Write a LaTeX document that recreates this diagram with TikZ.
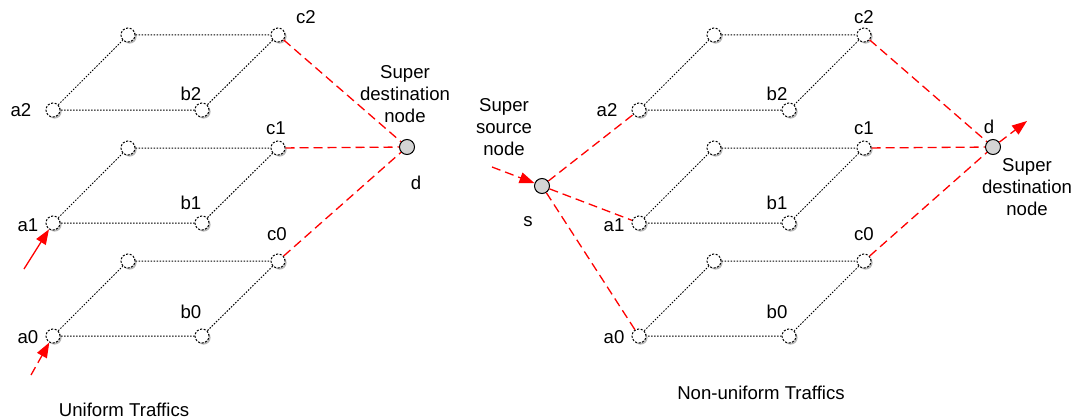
\documentclass[tikz,border=0pt]{standalone}
\usepackage{fontspec}
\setmainfont{Liberation Sans}
\usetikzlibrary{arrows.meta,shadows}
\begin{document}
\begin{tikzpicture}[x=1pt,y=-1pt,
  font=\fontsize{18.6}{22}\selectfont,
  hop/.style={circle,draw=black,line width=1pt,dash pattern=on 2pt off 1.6pt,fill=white,
    minimum size=14pt,inner sep=0pt,
    drop shadow={shadow xshift=1.6pt,shadow yshift=-1.6pt,fill=black!28,opacity=1}},
  supernode/.style={circle,draw=black,line width=1pt,fill=black!17,
    minimum size=15pt,inner sep=0pt},
  link/.style={draw=black,line width=1pt,dash pattern=on 1.5pt off 1.5pt},
  flow/.style={draw=red,line width=1.3pt,dash pattern=on 9pt off 5pt},
  flowsolid/.style={draw=red,line width=1.3pt},
  tip/.style={-{Triangle[length=15pt,width=11pt]}},
  lbl/.style={inner sep=0pt,anchor=center},
  multi/.style={inner sep=0pt,align=center,anchor=center}]
\useasboundingbox (0,0) rectangle (1076,420);

% ---------- left network: uniform traffic ----------
\foreach \k/\y in {2/110,1/223,0/336}{
  \node[hop] (La\k) at (53,\y) {};
  \node[hop] (Lb\k) at (202,\y) {};
  \node[hop] (Lu\k) at (128,\y-75) {};
  \node[hop] (Lc\k) at (278,\y-75) {};
  \draw[link] (La\k) -- (Lu\k) -- (Lc\k) -- (Lb\k) -- (La\k);
}
\node[supernode] (Ld) at (407,147) {};
\foreach \k in {2,1,0}{ \draw[flow] (Lc\k) -- (Ld); }

\coordinate (Lin1) at (24,269);
\coordinate (Lin0) at (31,375);
\draw[flowsolid,tip] (Lin1) -- (La1);
\draw[flow,tip] (Lin0) -- (La0);

\node[lbl] at (21,110) {a2};
\node[lbl] at (28,225) {a1};
\node[lbl] at (28,337) {a0};
\node[lbl] at (191,94) {b2};
\node[lbl] at (191,203) {b1};
\node[lbl] at (191,312) {b0};
\node[lbl] at (306,17) {c2};
\node[lbl] at (276,128) {c1};
\node[lbl] at (277,234) {c0};
\node[lbl] at (416,183) {d};
\node[multi] at (405,94) {Super\\destination\\node};
\node[lbl] at (124,410) {Uniform Traffics};

% ---------- right network: non-uniform traffic ----------
\foreach \k/\y in {2/110,1/223,0/336}{
  \node[hop] (Ra\k) at (639,\y) {};
  \node[hop] (Rb\k) at (789,\y) {};
  \node[hop] (Ru\k) at (714,\y-75) {};
  \node[hop] (Rc\k) at (864,\y-75) {};
  \draw[link] (Ra\k) -- (Ru\k) -- (Rc\k) -- (Rb\k) -- (Ra\k);
}
\node[supernode] (Rs) at (542,186) {};
\node[supernode] (Rd) at (993,147) {};
\foreach \k in {2,1,0}{
  \draw[flow] (Rs) -- (Ra\k);
  \draw[flow] (Rc\k) -- (Rd);
}
\coordinate (Rin) at (492,167);
\coordinate (Rout) at (1027,121);
\draw[flow,tip] (Rin) -- (Rs);
\draw[flow,tip] (Rd) -- (Rout);

\node[lbl] at (607,110) {a2};
\node[lbl] at (614,225) {a1};
\node[lbl] at (614,337) {a0};
\node[lbl] at (777,94) {b2};
\node[lbl] at (777,203) {b1};
\node[lbl] at (777,312) {b0};
\node[lbl] at (864,17) {c2};
\node[lbl] at (864,128) {c1};
\node[lbl] at (864,234) {c0};
\node[lbl] at (989,127) {d};
\node[lbl] at (528,222) {s};
\node[multi] at (504,127) {Super\\source\\node};
\node[multi] at (1027,187) {Super\\destination\\node};
\node[lbl] at (761,393) {Non-uniform Traffics};
\end{tikzpicture}
\end{document}
